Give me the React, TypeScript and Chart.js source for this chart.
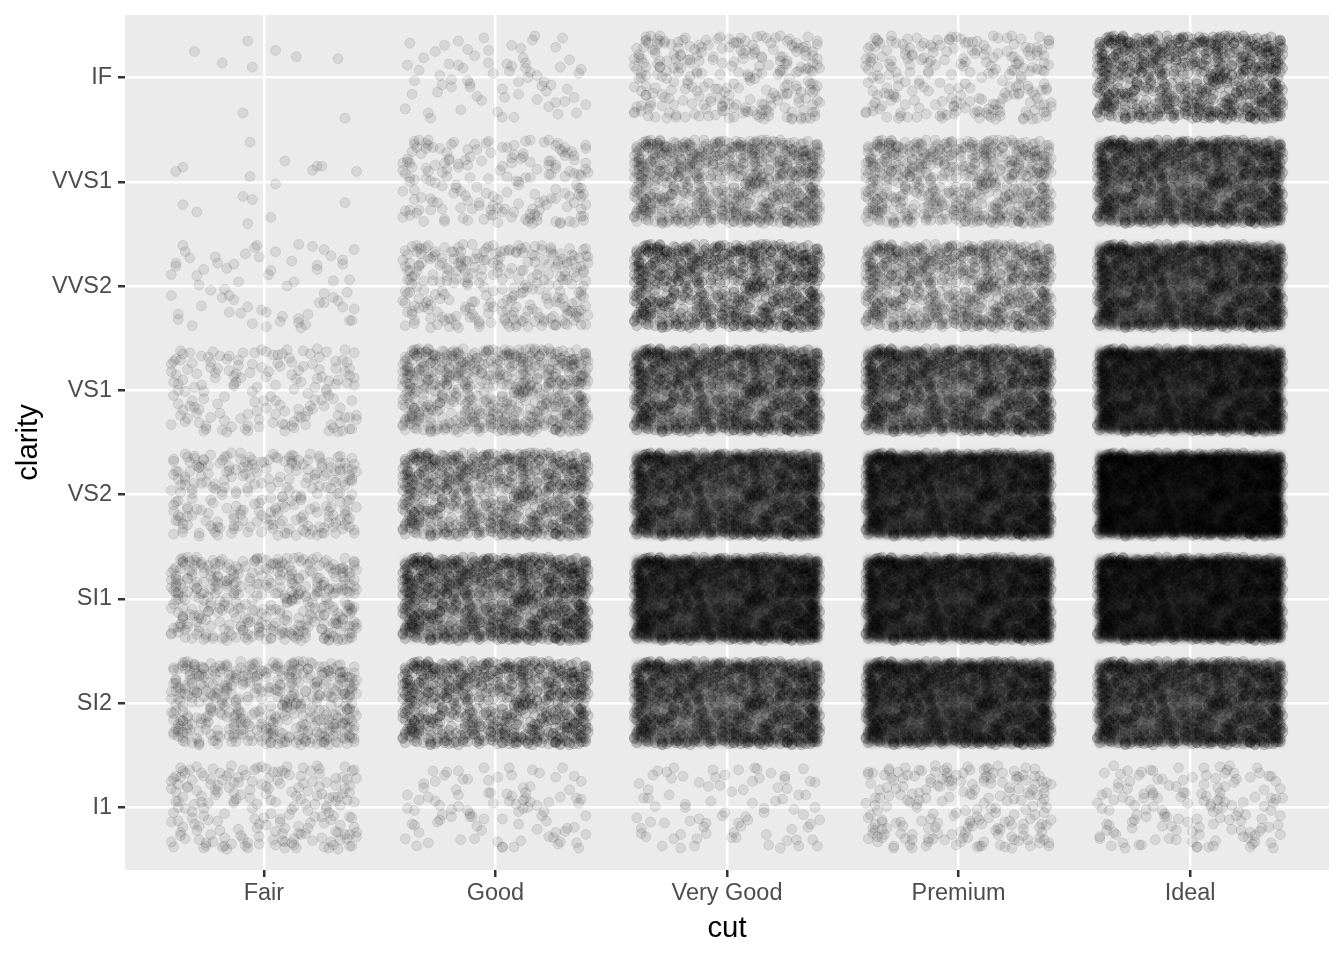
import React, { useEffect, useRef } from "react";
import { Chart, registerables } from "chart.js";

Chart.register(...registerables);

const cuts = ["Fair", "Good", "Very Good", "Premium", "Ideal"];
const clarities = ["I1", "SI2", "SI1", "VS2", "VS1", "VVS2", "VVS1", "IF"];

// Points per cell, in the order of `clarities`
const countsFair = [210, 466, 408, 261, 170, 69, 17, 9];
const countsGood = [96, 1081, 1560, 978, 648, 286, 186, 71];
const countsVeryGood = [84, 2100, 3240, 2591, 1775, 1235, 789, 268];
const countsPremium = [205, 2949, 3575, 3357, 1989, 870, 616, 230];
const countsIdeal = [146, 2598, 4282, 5071, 3589, 2606, 2047, 1212];
const counts = [countsFair, countsGood, countsVeryGood, countsPremium, countsIdeal];

// Offsets, hundredths of a category: x, y, x, y ...
const fairIF = [-7,35,-30,25,-18,14,-5,10,5,26,14,20,32,18,-9,-34,35,-39];
const fairVVS1 = [-6,38,9,20,-35,14,-38,10,-6,5,23,15,25,15,21,11,40,10,5,-2,-9,-14,-5,-17,-35,-22,-29,-29,35,-20,3,-34,-7,-40];

// Estimated jitter offsets for the cells too dense to read point by point
const jitterOffsets = [
-37,22,14,-39,-8,31,29,-12,3,7,-22,-33,38,35,-31,-4,19,16,-14,40,8,-25,-39,-38,33,2,-2,-16,24,37,-27,11,11,-7,-18,26,36,-30,-34,33,5,-36,27,24,-11,-21,-24,4,16,30,-40,-14,39,-19,1,20,-29,39,21,-32,-6,9,34,13,-36,-27,12,-2,-20,15,26,-38,-3,38,31,-23,-33,19,7,-11,40,28,-17,-37,18,3,-26,30,-9,-30,30,10,-38,6,9,33,-13,24,37,-9,
-24,-12,2,28,25,-29,-32,36,15,-18,-5,-1,35,18,-40,25,10,39,-16,-40,28,-5,-21,17,4,-31,-35,-19,37,-37,-12,8,20,35,-28,-31,13,1,-1,22,32,-24,-37,6,7,-14,23,11,-19,33,39,5,-10,-27,-26,-8,17,23,-4,36,30,-36,-38,15,12,-34,-15,19,1,13,34,29,-29,-22,22,-9,-7,-39,40,-28,-23,27,6,34,-34,-1,18,-25,-13,14,27,1,-36,38,9,-20,-2,-35,31,21,
-30,-16,16,8,-17,-29,38,-10,-5,25,24,32,-39,-5,5,-23,-22,37,29,-33,-10,12,36,27,-33,20,13,-30,-25,-37,2,18,33,-17,-15,33,19,-3,-36,-24,-1,39,28,9,-27,5,9,-39,39,36,-20,-13,21,25,-7,-34,-38,30,12,15,35,-26,-28,-18,4,34,26,-15,-13,4,-35,10,17,38,-3,-20,31,6,-23,22,8,-32,-40,-33,37,14,-18,-38,25,-9,-11,29,0,-10,-31,26,32,-40,15,-25,
22,3,-37,-13,6,26,-19,-22,35,39,-8,-37,-29,16,14,11,-2,-28,40,-24,-35,35,27,-1,11,31,-25,-34,-13,6,33,-31,3,-6,-39,28,20,-15,-6,17,37,21,-31,-10,9,-33,-16,30,25,13,-26,-39,1,37,30,-8,-37,0,16,-26,-11,24,38,-37,-21,12,5,5,-34,-30,23,40,-4,-11,31,28,-27,33,13,-36,-17,-6,36,7,-40,18,7,23,-23,-26,19,-20,-9,36,28,-39,-30,3,15,19,
1,-17,-36,29,32,10,-14,-35,24,20,-26,-1,8,35,37,-26,-20,21,-3,3,18,-33,-33,-27,12,27,39,12,-7,-23,-39,8,27,37,5,-10,-24,32,21,-18,-12,16,34,-39,-32,-15,15,4,-18,38,30,25,-1,-32,-37,18,10,-21,23,7,-29,35,36,-12,-8,-5,3,33,-22,-38,26,16,-35,2,17,-31,39,32,-28,-16,11,22,-40,-34,-21,5,-29,40,38,-12,26,13,-2,-27,14,-38,34,8,28,
-40,-22,18,37,-6,-12,31,-35,-17,8,26,3,-29,24,7,-35,36,31,-24,-30,13,18,-37,10,0,-20,22,34,-20,-3,39,-15,-9,29,29,15,-31,-40,11,-13,-13,39,35,1,-25,13,4,23,20,-31,-38,-17,-3,-34,33,26,-16,-16,17,7,-34,37,6,-2,28,-37,-27,30,-11,21,38,-5,-36,3,15,-27,-19,34,25,-23,-4,15,40,38,-33,-29,10,32,-14,-8,31,-1,-23,-38,19,26,-7,16,-40,
-10,-26,34,21,-37,-32,2,11,-21,28,24,-16,-4,37,37,-33,-28,1,15,-35,-13,21,30,5,-35,39,8,-29,-18,-11,26,35,-40,-9,12,24,1,-39,-26,16,36,-6,-11,4,19,-27,-32,27,5,33,39,-22,-15,-25,23,16,-38,22,-7,-20,32,-38,-23,9,10,-3,-30,37,28,31,-2,-32,-35,-8,18,12,-19,36,37,-14,-28,-27,7,18,-12,-37,33,29,-37,4,22,-22,-16,14,-1,-14,40,9,-33,40,
9,1,-25,-20,30,33,-39,-28,17,-12,-6,20,35,-3,-22,-36,-30,32,13,39,26,-38,-12,-18,-36,14,4,-26,39,18,-20,9,20,27,-34,-37,-2,14,31,-20,-27,35,11,-32,-16,1,37,25,-9,-30,23,5,-31,23,-38,-1,6,38,-24,-12,28,-33,-14,27,35,9,1,29,-5,-11,-33,-24,19,33,-17,17,36,-39,-26,6,39,-8,3,-38,-35,-17,15,20,-21,34,25,-29,-10,-9,12,-1,-29,10,34,30,
9,3,12,7,6,6,14,0,10,-4,15,5,7,11,-12,-3,-16,12,-24,2,-6,-22,20,-8,26,-24,-23,-7,-3,14,13,14,18,2,-11,-9,3,-11,-19,-2,28,10,
-15,-31,27,-35,-33,7,12,19,-8,-18,39,-26,3,-38,-26,25,21,-4,-38,12,7,31,34,-19,-19,-9,16,36,-1,4,30,-23,-29,-34,10,-16,-12,27,37,8,-35,-3,23,-28,-5,38,5,13,-22,31,32,17,-39,-30,18,-21,-11,-6,26,29,-31,19,1,-33,36,4,-16,35,-25,-14,13,9,29,38,-36,-16,8,-38,-3,26,22,-13,35,-34,-20,13,4,-19,-28,-39,17,40,-9,21,31,-11,-37,33,11,28,
24,-7,-14,9,-32,-26,6,22,38,-17,-21,-36,15,33,-6,-31,32,1,-27,18,1,-23,19,24,-40,4,10,-37,-17,36,28,-27,-4,10,35,30,-36,-22,13,-10,-10,34,27,7,-24,-18,4,39,39,-34,-30,11,17,-20,-13,-33,22,15,-39,32,8,-2,33,22,-22,7,-1,-36,37,14,-28,26,12,30,-33,-29,20,-14,-8,20,30,-31,-18,0,5,36,-37,-25,25,27,-12,-11,36,-16,2,-29,-26,34,16,-1,
-34,17,11,4,-19,30,37,-31,-2,-8,24,8,-28,-37,14,28,-9,-25,33,-7,-38,23,6,-18,-23,38,29,-2,-13,-30,19,33,-31,1,2,15,40,-12,-16,-13,26,-32,-5,29,36,25,-35,-28,9,-12,-25,12,18,-36,-3,21,31,12,-39,-10,12,38,-20,-26,35,-19,-7,6,22,19,-30,35,4,-29,28,-21,-14,-37,38,24,-34,9,16,-5,-24,28,5,-15,33,37,-10,-19,23,-39,-1,31,-33,-14,11,25,
17,-26,-27,-15,34,12,-6,36,-37,-20,8,-9,26,18,-18,3,39,-37,-12,24,3,-24,-32,31,21,6,-23,-30,13,37,-1,-5,31,-37,-36,9,7,17,-20,-39,25,30,-9,-15,38,0,-29,28,16,-22,-14,17,35,-29,2,33,-33,-12,23,-17,-10,40,30,14,-25,-25,11,-33,-4,25,37,19,-39,34,-17,7,20,-38,6,12,-31,-20,28,31,-7,27,36,-24,-21,5,14,23,-35,-33,3,-3,24,35,-13,-20,
-3,-26,33,30,-24,20,9,-37,-38,-7,18,11,-11,-30,29,26,-30,37,5,-13,37,-5,-17,14,24,-31,-5,33,-33,-21,14,-1,40,22,-20,-31,1,25,28,-16,-36,2,11,36,-13,-23,35,9,-27,28,21,-34,-7,3,32,36,-39,-16,17,29,-22,-8,7,-28,38,15,-32,22,-1,-20,25,-37,-15,23,12,-6,-34,39,31,-27,-9,18,23,1,-28,-40,9,32,-18,33,35,-15,-37,15,4,-33,27,21,-12,3,
-21,10,37,-23,-9,26,16,-3,-35,-36,6,35,29,6,-29,-14,19,-30,-16,37,34,-33,-4,-9,-39,19,11,15,26,-37,-19,-32,0,31,33,24,-31,5,14,-24,-10,-15,38,13,-26,33,3,-17,23,21,-38,-25,8,-2,30,-20,-15,27,-34,14,20,39,-7,-36,36,-6,-23,-5,12,32,-1,11,27,-11,-33,36,17,-34,-12,1,39,29,-28,26,6,-39,-37,-6,22,-12,-6,16,33,-24,-16,22,10,7,31,23,
];

const pointCount = jitterOffsets.length / 2;
const jitterSpan = 0.4;

function pointAlpha(n: number) {
  return Math.max(0.085, Math.min(0.14, (0.085 * n) / pointCount));
}

// Darkness left over for a cell holding more points than the offset list
function cellOpacity(n: number) {
  if (n <= pointCount) return 0;
  const depth = 5.7e-4 * n;
  const drawn = -Math.log(1 - pointAlpha(n)) * pointCount * 95 / 15450;
  return 1 - Math.exp(-Math.max(0, depth - drawn));
}

function buildDatasets() {
  const out: any[] = [];
  let start = 0;
  counts.forEach((row, c) => {
    row.forEach((n, k) => {
      const data: { x: number; y: number }[] = [];
      if (c === 0 && k === 7) {
        for (let i = 0; i < fairIF.length; i += 2) data.push({ x: c + 1 + fairIF[i] / 100, y: k + 1 + fairIF[i + 1] / 100 });
      } else if (c === 0 && k === 6) {
        for (let i = 0; i < fairVVS1.length; i += 2) data.push({ x: c + 1 + fairVVS1[i] / 100, y: k + 1 + fairVVS1[i + 1] / 100 });
      } else {
        const shown = Math.min(n, pointCount);
        for (let i = 0; i < shown; i++) {
          const p = (start + i) % pointCount;
          data.push({ x: c + 1 + jitterOffsets[p * 2] / 100, y: k + 1 + jitterOffsets[p * 2 + 1] / 100 });
        }
        start = (start + shown + 37) % pointCount;
      }
      const color = `rgba(0,0,0,${pointAlpha(n)})`;
      out.push({
        label: `${cuts[c]} ${clarities[k]}`,
        data,
        backgroundColor: color,
        borderColor: color,
        borderWidth: 1,
        pointRadius: 5,
        pointHoverRadius: 5,
      });
    });
  });
  return out;
}

const panelBackground = {
  id: "panelBackground",
  beforeDraw(chart: any) {
    const { ctx, chartArea: a } = chart;
    ctx.save();
    ctx.fillStyle = "#EBEBEB";
    ctx.fillRect(a.left, a.top, a.right - a.left, a.bottom - a.top);
    ctx.restore();
  },
};

const cellDensity = {
  id: "cellDensity",
  beforeDatasetsDraw(chart: any) {
    const { ctx, scales } = chart;
    ctx.save();
    ctx.filter = "blur(2.5px)";
    counts.forEach((row, c) => {
      row.forEach((n, k) => {
        const o = cellOpacity(n);
        if (o <= 0) return;
        const x0 = scales.x.getPixelForValue(c + 1 - jitterSpan);
        const x1 = scales.x.getPixelForValue(c + 1 + jitterSpan);
        const y0 = scales.y.getPixelForValue(k + 1 + jitterSpan);
        const y1 = scales.y.getPixelForValue(k + 1 - jitterSpan);
        ctx.fillStyle = `rgba(0,0,0,${o})`;
        ctx.fillRect(x0, y0, x1 - x0, y1 - y0);
      });
    });
    ctx.restore();
  },
};

export default function App() {
  const ref = useRef<HTMLCanvasElement>(null);
  useEffect(() => {
    const font = "'Liberation Sans', Arial, sans-serif";
    const chart = new Chart(ref.current as HTMLCanvasElement, {
      type: "scatter",
      data: { datasets: buildDatasets() },
      plugins: [panelBackground, cellDensity],
      options: {
        animation: false,
        responsive: false,
        events: [],
        layout: { padding: { top: 15, right: 15, left: 0, bottom: 0 } },
        plugins: { legend: { display: false }, tooltip: { enabled: false } },
        scales: {
          x: {
            type: "linear",
            min: 0.4,
            max: 5.6,
            afterFit: (s: any) => { s.height = 90; s.paddingLeft = 0; s.paddingRight = 0; },
            afterBuildTicks: (s: any) => { s.ticks = cuts.map((_, i) => ({ value: i + 1 })); },
            border: { display: false },
            grid: { color: "#FFFFFF", lineWidth: 2.5, tickColor: "#333333", tickWidth: 2.5, tickLength: 7 },
            ticks: {
              autoSkip: false,
              maxRotation: 0,
              minRotation: 0,
              padding: 5,
              color: "#4D4D4D",
              font: { family: font, size: 23.47, lineHeight: 1 },
              callback: (v: any) => cuts[Number(v) - 1],
            },
            title: {
              display: true,
              text: "cut",
              color: "#000000",
              font: { family: font, size: 29.33, lineHeight: 1 },
              padding: { top: 0, bottom: 16 },
            },
          },
          y: {
            type: "linear",
            min: 0.4,
            max: 8.6,
            afterFit: (s: any) => { s.width = 125; s.paddingTop = 0; s.paddingBottom = 0; },
            afterBuildTicks: (s: any) => { s.ticks = clarities.map((_, i) => ({ value: i + 1 })); },
            border: { display: false },
            grid: { color: "#FFFFFF", lineWidth: 2.5, tickColor: "#333333", tickWidth: 2.5, tickLength: 7 },
            ticks: {
              autoSkip: false,
              padding: 6,
              color: "#4D4D4D",
              font: { family: font, size: 23.47, lineHeight: 1 },
              callback: (v: any) => clarities[Number(v) - 1],
            },
            title: {
              display: true,
              text: "clarity",
              color: "#000000",
              font: { family: font, size: 29.33, lineHeight: 1 },
              padding: { top: 14, bottom: 0 },
            },
          },
        },
      },
    } as any);
    return () => chart.destroy();
  }, []);
  return (
    <canvas
      ref={ref}
      width={1344}
      height={960}
      style={{ position: "fixed", left: 0, top: 0, width: 1344, height: 960, display: "block" }}
    />
  );
}
